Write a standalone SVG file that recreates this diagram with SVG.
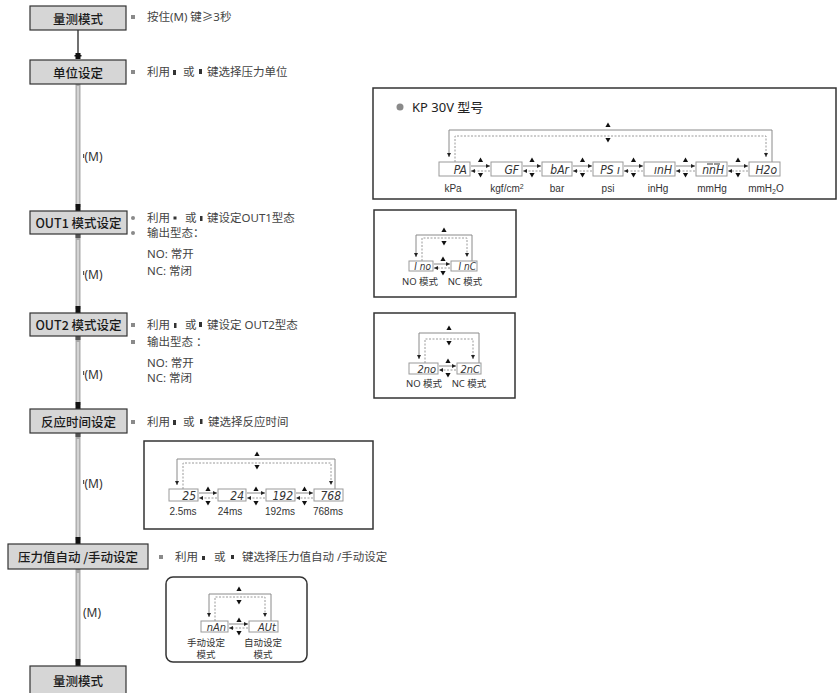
<svg xmlns="http://www.w3.org/2000/svg" width="838" height="693" viewBox="0 0 838 693">
<defs>
<style>
.node{fill:#d6d6d6;stroke:#333;stroke-width:1.2}
.nt{font-family:"Noto Sans CJK SC","Noto Sans",sans-serif;font-size:12.5px;font-weight:500;fill:#1a1a1a;text-anchor:middle;dominant-baseline:central}
.d{font-family:"Noto Sans","Noto Sans CJK SC",sans-serif;font-size:11.5px;fill:#444}
.m{font-family:"Noto Sans","Noto Sans CJK SC",sans-serif;font-size:12px;fill:#333}
.bul{fill:#8a8a8a}
.ic{fill:#333}
.frame{fill:#fff;stroke:#333;stroke-width:1.5}
.disp{fill:#fff;stroke:#9a9a9a;stroke-width:1}
.dt{font-family:"DejaVu Sans",sans-serif;font-style:italic;font-stretch:condensed;fill:#333;text-anchor:end}
.lb{font-family:"Liberation Sans",Arial,sans-serif;font-size:10px;fill:#333;text-anchor:middle}
.lbc{font-family:"Noto Sans","Noto Sans CJK SC",sans-serif;font-size:9.5px;fill:#333;text-anchor:middle}
.sl{fill:none;stroke:#8a8a8a;stroke-width:1}
.dl{fill:none;stroke:#9a9a9a;stroke-width:1;stroke-dasharray:2 1.5}
.gbar{stroke:#a8a8a8;stroke-width:5}
.gin{stroke:#d4d4d4;stroke-width:2.4}
</style>
<marker id="ah" viewBox="0 0 6 6" refX="6" refY="3" markerWidth="4" markerHeight="4" markerUnits="userSpaceOnUse" orient="auto"><path d="M0,0L6,3L0,6z" fill="#222"/></marker>
<path id="up" d="M0,-2.6L2.6,2L-2.6,2z" fill="#111"/>
<path id="dn" d="M0,2.6L2.6,-2L-2.6,-2z" fill="#111"/>
</defs>

<g id="connectors">
<line x1="78" y1="30" x2="78" y2="55" stroke="#111" stroke-width="1.2"/>
<rect x="75.5" y="53" width="5" height="6" fill="#111"/>
<rect x="74.5" y="55" width="7" height="1.5" fill="#111"/>
<g>
<line class="gbar" x1="78" y1="84" x2="78" y2="207"/><line class="gin" x1="78" y1="86" x2="78" y2="205"/>
<rect x="75.5" y="204" width="5" height="7" fill="#111"/>
<line class="gbar" x1="78" y1="234" x2="78" y2="309"/><line class="gin" x1="78" y1="240" x2="78" y2="307"/>
<rect x="75.5" y="234" width="5" height="4" fill="#555"/>
<rect x="75.5" y="306" width="5" height="7" fill="#111"/>
<line class="gbar" x1="78" y1="336" x2="78" y2="405"/><line class="gin" x1="78" y1="342" x2="78" y2="403"/>
<rect x="75.5" y="336" width="5" height="4" fill="#555"/>
<rect x="75.5" y="402" width="5" height="7" fill="#111"/>
<line class="gbar" x1="78" y1="433" x2="78" y2="540"/><line class="gin" x1="78" y1="439" x2="78" y2="538"/>
<rect x="75.5" y="433" width="5" height="4" fill="#555"/>
<rect x="75.5" y="537" width="5" height="7" fill="#111"/>
<line class="gbar" x1="78" y1="569" x2="78" y2="662"/><line class="gin" x1="78" y1="573" x2="78" y2="660"/>
<rect x="75.5" y="659" width="5" height="7" fill="#111"/>
</g>
<rect x="83" y="154" width="1.2" height="4" fill="#555"/>
<text class="m" x="84.5" y="161">(M)</text>
<rect x="83" y="271" width="1.2" height="4" fill="#555"/>
<text class="m" x="84.5" y="279">(M)</text>
<rect x="83" y="371" width="1.2" height="4" fill="#555"/>
<text class="m" x="84.5" y="379">(M)</text>
<rect x="83" y="480" width="1.2" height="4" fill="#555"/>
<text class="m" x="84.5" y="488">(M)</text>
<text class="m" x="83" y="617">(M)</text>
</g>

<g id="n-measure-top">
<rect class="node" x="30" y="6" width="96" height="24"/>
<text class="nt" x="78" y="18">量测模式</text>
<rect class="bul" x="131" y="15" width="4" height="4"/>
<text class="d" x="147" y="21">按住(M) 键≥3秒</text>
</g>

<g id="n-unit">
<rect class="node" x="30" y="60" width="96" height="24"/>
<text class="nt" x="78" y="72">单位设定</text>
<rect class="bul" x="131" y="70" width="4" height="4"/>
<text class="d" x="147" y="76">利用</text>
<rect class="ic" x="173" y="70" width="3" height="5"/>
<text class="d" x="183" y="76">或</text>
<rect class="ic" x="199" y="69" width="3" height="5"/>
<text class="d" x="207" y="76">键选择压力单位</text>
</g>

<g id="n-out1">
<rect class="node" x="30" y="211" width="97" height="23"/>
<text class="nt" x="78.5" y="222.5">OUT1 模式设定</text>
<circle class="bul" cx="133" cy="218" r="2"/>
<text class="d" x="147" y="222">利用</text>
<rect class="ic" x="173.5" y="216.5" width="3" height="3"/>
<text class="d" x="185" y="222">或</text>
<rect class="ic" x="200" y="216" width="2.5" height="5"/>
<text class="d" x="207" y="222">键设定OUT1型态</text>
<circle class="bul" cx="133" cy="233" r="2"/>
<text class="d" x="147" y="237">输出型态：</text>
<text class="d" x="147" y="258">NO: 常开</text>
<text class="d" x="147" y="275">NC: 常闭</text>
</g>

<g id="n-out2">
<rect class="node" x="30" y="313" width="97" height="23"/>
<text class="nt" x="78.5" y="324.5">OUT2 模式设定</text>
<rect class="bul" x="131" y="323" width="4" height="4"/>
<text class="d" x="147" y="329">利用</text>
<rect class="ic" x="174" y="323" width="2.5" height="5"/>
<text class="d" x="185" y="329">或</text>
<rect class="ic" x="199" y="322" width="3" height="5"/>
<text class="d" x="207" y="329">键设定 OUT2型态</text>
<rect class="bul" x="131" y="340" width="4" height="4"/>
<text class="d" x="147" y="346">输出型态 ：</text>
<text class="d" x="147" y="367">NO: 常开</text>
<text class="d" x="147" y="382">NC: 常闭</text>
</g>

<g id="n-resp">
<rect class="node" x="30" y="409" width="97" height="24"/>
<text class="nt" x="78.5" y="421">反应时间设定</text>
<rect class="bul" x="131" y="420" width="4" height="4"/>
<text class="d" x="147" y="426">利用</text>
<rect class="ic" x="173" y="420" width="3" height="5"/>
<text class="d" x="183" y="426">或</text>
<rect class="ic" x="200" y="419" width="2.5" height="5"/>
<text class="d" x="208" y="426">键选择反应时间</text>
</g>

<g id="n-auto">
<rect class="node" x="8" y="544" width="140" height="25"/>
<text class="nt" x="78" y="556.5" font-size="13">压力值自动 /手动设定</text>
<rect class="bul" x="159" y="555" width="4" height="4"/>
<text class="d" x="175" y="561">利用</text>
<rect class="ic" x="202" y="556" width="3" height="4"/>
<text class="d" x="214" y="561">或</text>
<rect class="ic" x="231" y="555" width="3" height="4"/>
<text class="d" x="242" y="561">键选择压力值自动 /手动设定</text>
</g>

<g id="n-measure-bottom">
<rect class="node" x="30" y="666" width="96" height="32"/>
<text class="nt" x="78" y="680">量测模式</text>
</g>

<g id="n-kp30v">
<rect class="frame" x="373" y="88" width="463" height="111"/>
<circle cx="400" cy="107" r="3.5" fill="#8a8a8a"/>
<text x="412" y="112" font-family="Noto Sans,Noto Sans CJK SC,sans-serif" font-size="13" fill="#222">KP 30V  型号</text>
<path class="sl" d="M772,162V130H449V157" marker-end="url(#ah)"/>
<path class="dl" d="M455,162V136H766V157" marker-end="url(#ah)"/>
<use href="#up" x="608" y="125"/>
<use href="#dn" x="608" y="140"/>
<rect class="disp" x="439" y="162" width="31" height="14"/>
<rect class="disp" x="491" y="162" width="31" height="14"/>
<rect class="disp" x="542" y="162" width="30" height="14"/>
<rect class="disp" x="593" y="162" width="30" height="14"/>
<rect class="disp" x="644" y="162" width="31" height="14"/>
<rect class="disp" x="696" y="162" width="31" height="14"/>
<rect class="disp" x="749" y="162" width="31" height="14"/>
<text class="dt" x="467" y="174" font-size="12">PA</text>
<text class="dt" x="519" y="174" font-size="12">GF</text>
<text class="dt" x="569" y="174" font-size="12">bAr</text>
<text class="dt" x="620" y="174" font-size="12">PS ı</text>
<text class="dt" x="672" y="174" font-size="12">ınH</text>
<text class="dt" x="724" y="174" font-size="12">nnH</text>
<line x1="707" y1="164" x2="713" y2="164" stroke="#333" stroke-width="1"/>
<line x1="714" y1="164" x2="720" y2="164" stroke="#333" stroke-width="1"/>
<text class="dt" x="777" y="174" font-size="12">H2o</text>
<g>
<use href="#up" x="480.5" y="160"/><line class="sl" x1="471" y1="166" x2="490" y2="166" marker-end="url(#ah)"/><line class="dl" x1="490" y1="171" x2="471" y2="171" marker-end="url(#ah)"/><use href="#dn" x="480.5" y="175"/>
<use href="#up" x="532" y="160"/><line class="sl" x1="523" y1="166" x2="541" y2="166" marker-end="url(#ah)"/><line class="dl" x1="541" y1="171" x2="523" y2="171" marker-end="url(#ah)"/><use href="#dn" x="532" y="175"/>
<use href="#up" x="582.5" y="160"/><line class="sl" x1="573" y1="166" x2="592" y2="166" marker-end="url(#ah)"/><line class="dl" x1="592" y1="171" x2="573" y2="171" marker-end="url(#ah)"/><use href="#dn" x="582.5" y="175"/>
<use href="#up" x="633.5" y="160"/><line class="sl" x1="624" y1="166" x2="643" y2="166" marker-end="url(#ah)"/><line class="dl" x1="643" y1="171" x2="624" y2="171" marker-end="url(#ah)"/><use href="#dn" x="633.5" y="175"/>
<use href="#up" x="685.5" y="160"/><line class="sl" x1="676" y1="166" x2="695" y2="166" marker-end="url(#ah)"/><line class="dl" x1="695" y1="171" x2="676" y2="171" marker-end="url(#ah)"/><use href="#dn" x="685.5" y="175"/>
<use href="#up" x="738" y="160"/><line class="sl" x1="728" y1="166" x2="748" y2="166" marker-end="url(#ah)"/><line class="dl" x1="748" y1="171" x2="728" y2="171" marker-end="url(#ah)"/><use href="#dn" x="738" y="175"/>
</g>
<text class="lb" x="453" y="192">kPa</text>
<text class="lb" x="507" y="192">kgf/cm<tspan font-size="7" dy="-3">2</tspan></text>
<text class="lb" x="557" y="192">bar</text>
<text class="lb" x="608" y="192">psi</text>
<text class="lb" x="658" y="192">inHg</text>
<text class="lb" x="712" y="192">mmHg</text>
<text class="lb" x="766" y="192">mmH<tspan font-size="7" dy="2">2</tspan><tspan dy="-2">O</tspan></text>
</g>

<g id="n-out1-box">
<rect class="frame" x="374" y="210" width="142" height="87"/>
<path class="sl" d="M472,261V235H416V257" marker-end="url(#ah)"/>
<path class="dl" d="M422,261V238H467V257" marker-end="url(#ah)"/>
<use href="#up" x="444" y="230"/>
<use href="#dn" x="444" y="243"/>
<rect class="disp" x="409" y="261" width="24" height="10"/>
<rect class="disp" x="451" y="261" width="26" height="10"/>
<text class="dt" x="431" y="270" font-size="10">I no</text>
<text class="dt" x="476" y="270" font-size="10">I nC</text>
<use href="#up" x="443" y="259"/>
<line class="sl" x1="434" y1="264" x2="450" y2="264" marker-end="url(#ah)"/>
<line class="dl" x1="450" y1="268" x2="434" y2="268" marker-end="url(#ah)"/>
<use href="#dn" x="443" y="273"/>
<text class="lbc" x="420" y="285">NO 模式</text>
<text class="lbc" x="465" y="285">NC 模式</text>
</g>

<g id="n-out2-box">
<rect class="frame" x="374" y="313" width="141" height="85"/>
<path class="sl" d="M479,363V333H419V359" marker-end="url(#ah)"/>
<path class="dl" d="M425,363V339H473V359" marker-end="url(#ah)"/>
<use href="#up" x="449" y="328"/>
<use href="#dn" x="449" y="343"/>
<rect class="disp" x="409" y="363" width="29" height="11"/>
<rect class="disp" x="457" y="363" width="24" height="11"/>
<text class="dt" x="436" y="373" font-size="11">2no</text>
<text class="dt" x="480" y="373" font-size="11">2nC</text>
<use href="#up" x="448" y="361"/>
<line class="sl" x1="439" y1="366" x2="456" y2="366" marker-end="url(#ah)"/>
<line class="dl" x1="456" y1="370" x2="439" y2="370" marker-end="url(#ah)"/>
<use href="#dn" x="448" y="375"/>
<text class="lbc" x="424" y="387">NO 模式</text>
<text class="lbc" x="469" y="387">NC 模式</text>
</g>

<g id="n-resp-box">
<rect class="frame" x="144" y="441" width="229" height="88"/>
<path class="sl" d="M335,489V459H177V485" marker-end="url(#ah)"/>
<path class="dl" d="M183,489V463H331V485" marker-end="url(#ah)"/>
<use href="#up" x="257" y="454"/>
<use href="#dn" x="257" y="467"/>
<rect class="disp" x="169" y="489" width="29" height="12"/>
<rect class="disp" x="218" y="489" width="28" height="12"/>
<rect class="disp" x="266" y="489" width="29" height="12"/>
<rect class="disp" x="314" y="489" width="29" height="12"/>
<text class="dt" x="196" y="500" font-size="12">25</text>
<text class="dt" x="244" y="500" font-size="12">24</text>
<text class="dt" x="293" y="500" font-size="12">192</text>
<text class="dt" x="341" y="500" font-size="12">768</text>
<use href="#up" x="208" y="489"/><line class="sl" x1="199" y1="493" x2="217" y2="493" marker-end="url(#ah)"/><line class="dl" x1="217" y1="498" x2="199" y2="498" marker-end="url(#ah)"/><use href="#dn" x="208" y="503"/>
<use href="#up" x="256" y="489"/><line class="sl" x1="247" y1="493" x2="265" y2="493" marker-end="url(#ah)"/><line class="dl" x1="265" y1="498" x2="247" y2="498" marker-end="url(#ah)"/><use href="#dn" x="256" y="503"/>
<use href="#up" x="304.5" y="489"/><line class="sl" x1="296" y1="493" x2="313" y2="493" marker-end="url(#ah)"/><line class="dl" x1="313" y1="498" x2="296" y2="498" marker-end="url(#ah)"/><use href="#dn" x="304.5" y="503"/>
<text class="lb" x="183" y="515">2.5ms</text>
<text class="lb" x="230" y="515">24ms</text>
<text class="lb" x="280" y="515">192ms</text>
<text class="lb" x="328" y="515">768ms</text>
</g>

<g id="n-auto-box">
<rect class="frame" x="166" y="577" width="141" height="85" rx="7"/>
<path class="sl" d="M271,621V594H209V617" marker-end="url(#ah)"/>
<path class="dl" d="M215,621V597H265V617" marker-end="url(#ah)"/>
<use href="#up" x="239" y="589"/>
<use href="#dn" x="239" y="602"/>
<rect class="disp" x="201" y="621" width="27" height="11"/>
<rect class="disp" x="249" y="621" width="29" height="11"/>
<text class="dt" x="226" y="631" font-size="11">nAn</text>
<text class="dt" x="276" y="631" font-size="11">AUt</text>
<use href="#up" x="239" y="620"/>
<line class="sl" x1="229" y1="624" x2="248" y2="624" marker-end="url(#ah)"/>
<line class="dl" x1="248" y1="628" x2="229" y2="628" marker-end="url(#ah)"/>
<use href="#dn" x="239" y="633"/>
<text class="lbc" x="206" y="646">手动设定</text>
<text class="lbc" x="206" y="658">模式</text>
<text class="lbc" x="263" y="646">自动设定</text>
<text class="lbc" x="263" y="658">模式</text>
</g>
</svg>
